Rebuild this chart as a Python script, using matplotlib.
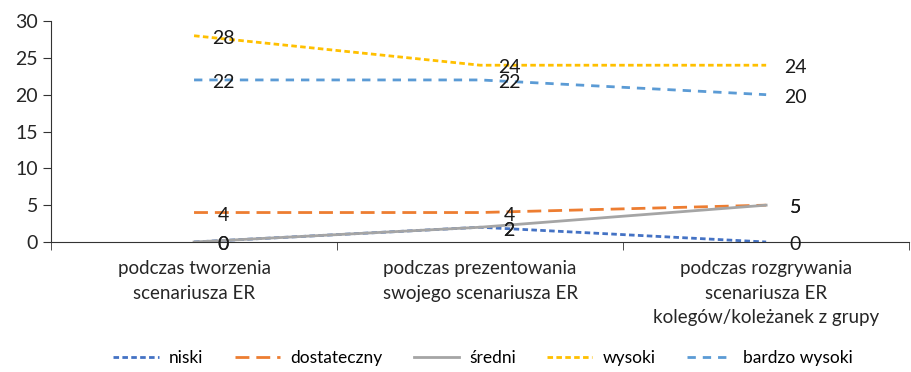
import matplotlib.pyplot as plt
import numpy as np

plt.rcParams['font.family'] = ['Lato', 'DejaVu Sans']

categories = ["podczas tworzenia\nscenariusza ER",
              "podczas prezentowania\nswojego scenariusza ER",
              "podczas rozgrywania\nscenariusza ER\nkolegów/koleżanek z grupy"]
series_names = ["niski", "dostateczny", "średni", "wysoki", "bardzo wysoki"]
niski = [0, 2, 0]
dostateczny = [4, 4, 5]
sredni = [0, 2, 5]
wysoki = [28, 24, 24]
bardzo_wysoki = [22, 22, 20]

colors = ['#4472C4', '#ED7D31', '#A5A5A5', '#FFC000', '#5B9BD5']
dashes = [(2.0, 1.2), (5.0, 2.5), None, (2.0, 1.2), (3.0, 2.5)]

fig = plt.figure(figsize=(9.11, 3.72), dpi=100)
ax = fig.add_axes([0.056, 0.3495, 0.942, 0.594])

x = np.arange(len(categories))
all_series = [niski, dostateczny, sredni, wysoki, bardzo_wysoki]
for vals, name, c, d in zip(all_series, series_names, colors, dashes):
    line, = ax.plot(x, vals, color=c, linewidth=2, label=name)
    if d is not None:
        line.set_dashes(d)
    # data labels to the right of each point
    for xi, v in zip(x, vals):
        ax.annotate(str(v), (xi, v), xytext=(21, -2), textcoords='offset points',
                    ha='center', va='center', fontsize=14, color='#1a1a1a')

ax.set_xlim(-0.5, 2.5)
ax.set_ylim(0, 30)
ax.set_yticks(np.arange(0, 31, 5))
ax.set_xticks(x)
ax.set_xticklabels(categories, fontsize=13.5, color='#262626', linespacing=1.55)
ax.set_xticks([-0.5, 0.5, 1.5, 2.5], minor=True)
ax.tick_params(axis='x', which='major', length=0, pad=13)
ax.tick_params(axis='x', which='minor', length=6, color='#333333')
ax.tick_params(axis='y', labelsize=14, labelcolor='#262626', length=6, color='#333333')
for s in ['top', 'right']:
    ax.spines[s].set_visible(False)
ax.spines['left'].set_color('#333333')
ax.spines['bottom'].set_color('#333333')

fig.legend(loc='lower center', bbox_to_anchor=(0.53, -0.025), ncol=5, frameon=False,
           fontsize=12.5, handlelength=2.6, columnspacing=1.8, handletextpad=0.6)

fig.savefig('out.png', dpi=100)
